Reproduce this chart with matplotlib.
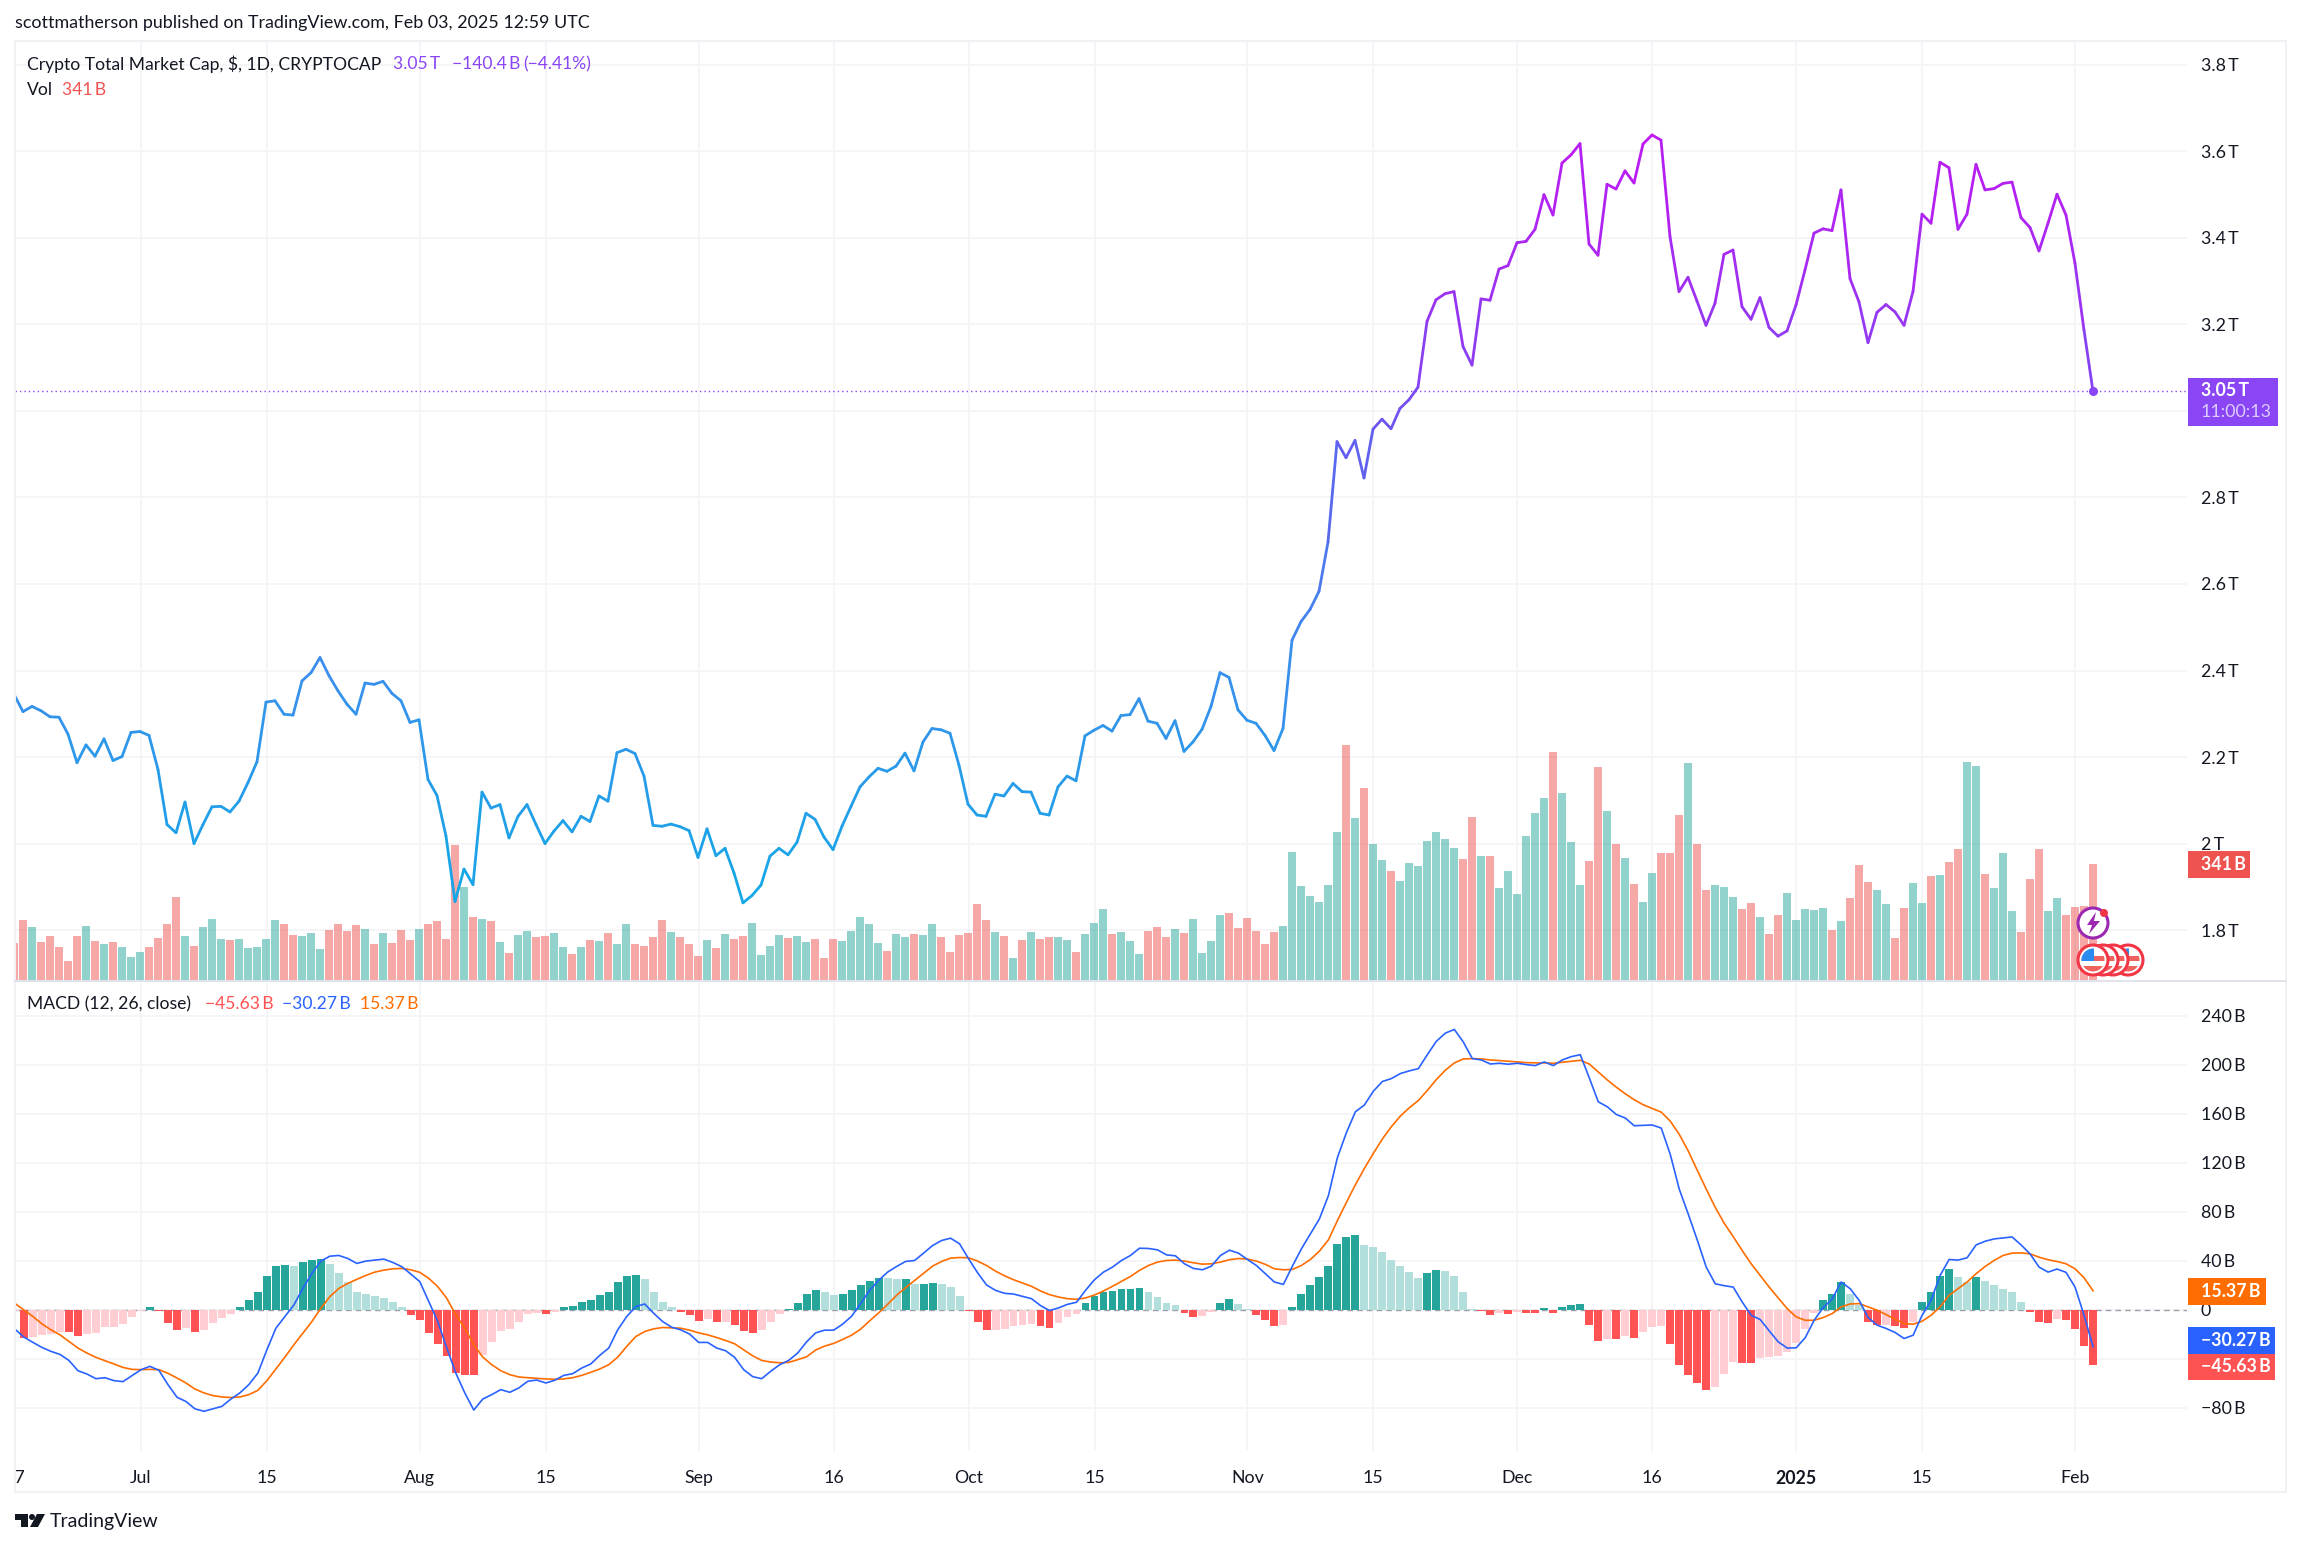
import numpy as np
import pandas as pd
import matplotlib
matplotlib.use("Agg")
import matplotlib.pyplot as plt
from matplotlib.collections import LineCollection
from matplotlib.colors import LinearSegmentedColormap, Normalize
from matplotlib.patches import Rectangle, Circle, Polygon
from matplotlib.transforms import Bbox, IdentityTransform

plt.rcParams["font.family"] = ["Lato", "DejaVu Sans"]

# Daily values, 17 Jun 2024 to 3 Feb 2025
dates = pd.date_range("2024-06-17", periods=232, freq="D")

price = [
    2.345, 2.305, 2.317, 2.307, 2.293, 2.292, 2.253, 2.187, 2.228, 2.202,
    2.242, 2.192, 2.201, 2.257, 2.259, 2.250, 2.171, 2.044, 2.025, 2.096,
    2.000, 2.044, 2.085, 2.086, 2.073, 2.098, 2.141, 2.189, 2.327, 2.330,
    2.299, 2.297, 2.376, 2.395, 2.430, 2.388, 2.353, 2.322, 2.299, 2.371,
    2.368, 2.375, 2.347, 2.330, 2.280, 2.286, 2.148, 2.111, 2.017, 1.866,
    1.941, 1.905, 2.119, 2.082, 2.090, 2.013, 2.063, 2.090, 2.044, 2.000,
    2.029, 2.053, 2.027, 2.063, 2.051, 2.110, 2.098, 2.210, 2.218, 2.208,
    2.156, 2.042, 2.040, 2.045, 2.039, 2.030, 1.968, 2.034, 1.972, 1.989,
    1.932, 1.863, 1.880, 1.904, 1.971, 1.989, 1.974, 2.003, 2.070, 2.056,
    2.015, 1.986, 2.040, 2.086, 2.131, 2.154, 2.174, 2.167, 2.179, 2.209,
    2.168, 2.235, 2.266, 2.263, 2.255, 2.181, 2.091, 2.066, 2.063, 2.114,
    2.110, 2.139, 2.120, 2.119, 2.070, 2.066, 2.131, 2.156, 2.145, 2.249,
    2.262, 2.273, 2.260, 2.296, 2.298, 2.335, 2.283, 2.278, 2.243, 2.284,
    2.213, 2.235, 2.264, 2.317, 2.395, 2.384, 2.309, 2.285, 2.278, 2.250,
    2.215, 2.266, 2.470, 2.513, 2.541, 2.583, 2.697, 2.929, 2.892, 2.932,
    2.845, 2.958, 2.981, 2.959, 3.006, 3.026, 3.055, 3.207, 3.257, 3.271,
    3.276, 3.149, 3.106, 3.259, 3.256, 3.328, 3.336, 3.389, 3.392, 3.420,
    3.500, 3.453, 3.573, 3.592, 3.618, 3.386, 3.360, 3.524, 3.513, 3.555,
    3.527, 3.617, 3.638, 3.626, 3.403, 3.276, 3.309, 3.254, 3.198, 3.249,
    3.362, 3.372, 3.241, 3.212, 3.262, 3.193, 3.173, 3.185, 3.245, 3.326,
    3.411, 3.421, 3.417, 3.511, 3.306, 3.252, 3.158, 3.228, 3.246, 3.229,
    3.198, 3.276, 3.455, 3.434, 3.575, 3.562, 3.420, 3.455, 3.570, 3.511,
    3.514, 3.526, 3.529, 3.447, 3.424, 3.370, 3.434, 3.501, 3.453, 3.341,
    3.187, 3.045,
]

volume = [
    110, 176, 156, 112, 129, 97, 56, 129, 159, 115,
    106, 112, 97, 68, 82, 97, 123, 165, 244, 129,
    100, 156, 179, 121, 118, 121, 94, 97, 121, 176,
    165, 132, 129, 138, 91, 147, 165, 144, 162, 150,
    106, 138, 109, 147, 118, 150, 165, 173, 121, 397,
    273, 185, 179, 173, 112, 79, 132, 144, 126, 129,
    138, 97, 76, 97, 118, 115, 138, 106, 165, 106,
    100, 126, 176, 141, 126, 106, 71, 118, 94, 135,
    121, 129, 168, 74, 100, 132, 123, 129, 112, 121,
    65, 121, 115, 144, 185, 165, 109, 85, 135, 126,
    135, 132, 165, 126, 82, 132, 138, 223, 176, 141,
    129, 65, 118, 141, 121, 126, 126, 118, 82, 135,
    168, 209, 135, 141, 115, 76, 144, 156, 126, 150,
    138, 179, 79, 115, 191, 197, 153, 182, 144, 106,
    141, 159, 376, 276, 247, 229, 279, 435, 691, 476,
    564, 400, 353, 320, 291, 344, 335, 409, 435, 415,
    388, 356, 479, 365, 365, 270, 320, 253, 423, 491,
    535, 670, 550, 406, 279, 350, 626, 497, 400, 359,
    282, 229, 315, 373, 373, 485, 638, 400, 265, 279,
    273, 244, 209, 226, 185, 135, 191, 256, 176, 209,
    206, 212, 147, 173, 241, 338, 288, 265, 223, 123,
    212, 285, 226, 306, 309, 347, 385, 641, 629, 312,
    270, 373, 203, 141, 297, 385, 203, 241, 191, 215,
    218, 341,
]

# r = down day, g = up day
volume_side = (
    "rrgrrrrrgr" "grgggrrrrg" "rgggrggggg" "rrgggrrrrg" "rgrrrgrrrr"
    "grgrgrggrr" "ggrgrgrggr" "rrrgrrrgrg" "rrggggrggr" "rrgggggrgg"
    "rggrrrrrrg" "rgrgrrggrg" "ggrgggrrrg" "rggggrrrrr" "rgggggggrg"
    "rggrgggggg" "grrgrggggg" "grgggrrgrg" "rggrrrgrrg" "ggrrgrrggg"
    "ggrgrrrggr" "rggrgrrggr" "gggrrrggrr" "rr"
)

macd = [
    -16, -22.5, -26.8, -30.9, -34.1, -36.6, -41.5, -49.9, -52.6, -56.4,
    -55.6, -58, -58.8, -53.9, -49.1, -46.3, -49.6, -61.2, -71.5, -75,
    -81, -83, -81, -79, -73, -68, -61.2, -51.8, -32.8, -15.2,
    -5.7, 3.8, 17.3, 29.5, 39.6, 43.6, 44.2, 41.7, 37.7, 39.6,
    40.4, 41.2, 38.5, 35, 29, 22.8, 6.5, -9.8, -31.4, -51.8,
    -68, -82, -73, -69.4, -65.3, -67.5, -64, -58.5, -57.5, -59.9,
    -57.7, -53.7, -52.3, -47.7, -44.4, -37.4, -31.4, -16.5, -5.7, 2.4,
    4.6, -3, -9.8, -14.4, -16.5, -20, -26.8, -26.8, -31.4, -33.6,
    -39, -49, -54.7, -56.4, -50.4, -45, -41.5, -35.5, -26.3, -19,
    -16.8, -16.8, -11.9, -5.4, 4.9, 15.7, 23.8, 30.6, 35.2, 39.3,
    40.1, 46.1, 52.3, 56.4, 58.3, 53.7, 41.5, 30.1, 20.1, 15.7,
    13.3, 12.7, 10.8, 8.9, 3.3, -0.8, 1.4, 4.3, 6, 15.7,
    24.4, 30.6, 34.7, 40.1, 44.2, 50.1, 49.9, 48.8, 44.7, 43.9,
    37.4, 33.6, 32.5, 35.5, 44.2, 48.5, 46.1, 40.9, 36, 29.3,
    22.5, 20.6, 35.5, 49.6, 61.8, 74, 93, 124, 144.4, 161.5,
    167, 178.3, 186.2, 188.6, 192.7, 194.9, 196.7, 208.1, 219, 225.7,
    228.7, 218.4, 204.9, 203.8, 200.5, 201.1, 200.3, 201.1, 200, 199.2,
    202.2, 199.2, 203.8, 206.5, 208.1, 189.2, 169.6, 165.6, 159.3, 156.4,
    150.1, 150.4, 150.7, 148.2, 126.8, 98.4, 78, 56.9, 34.7, 21.1,
    19.5, 18.4, 6.2, -4.6, -8.1, -17.3, -26.3, -31.4, -31.2, -23,
    -8.7, 1.6, 8.7, 22.5, 17.1, 7.6, -6.5, -12.7, -15.4, -18.7,
    -23.6, -20.9, -4.6, 7.6, 27.9, 40.9, 40.4, 42.3, 52.8, 55.8,
    57.7, 58.5, 59.3, 52.8, 45.5, 34.7, 30.6, 33.1, 30.4, 18.4,
    -4.6, -30.27,
]

signal = [
    5, -0.3, -5.7, -11.7, -16.5, -20.6, -26, -31.4, -35.5, -39,
    -41.7, -44.4, -47.2, -48.8, -49, -48.8, -49, -52, -55.8, -59.9,
    -64.8, -68, -70.2, -71.3, -71.8, -71.3, -69.4, -65.9, -58, -48.5,
    -38.8, -28.7, -19.2, -9.8, 1.1, 10.6, 17.3, 21.4, 24.7, 27.9,
    30.6, 32.2, 33.3, 33.6, 32.5, 30.4, 25.5, 18.7, 9.2, -4.3,
    -15.2, -28.7, -38.8, -45, -49.9, -53.1, -55, -55.6, -56.1, -56.6,
    -56.9, -56.6, -55.6, -53.7, -51.2, -48.5, -45, -38.8, -30.1, -22,
    -17.9, -15.7, -14.6, -14.9, -15.2, -16.8, -19, -20.6, -22.8, -25.2,
    -27.9, -32.8, -37.7, -41.5, -42.8, -43.4, -43.1, -40.9, -38.5, -33,
    -29.8, -27.6, -24.4, -20.9, -16, -9.2, -2.7, 4.3, 11.7, 17.9,
    23.8, 29.8, 35.5, 39.3, 42, 42.5, 42.3, 39.6, 36, 31.4,
    27.6, 24.4, 21.7, 19, 15.2, 12.2, 10.3, 8.9, 8.4, 9.5,
    11.9, 15.2, 19, 23, 27.1, 32, 36, 38.8, 40.1, 40.4,
    39.6, 38.2, 37.1, 37.4, 38.8, 40.7, 41.7, 41.2, 39.6, 36.9,
    33.3, 32.5, 32.8, 36, 40.9, 47.7, 56.9, 72.6, 87.5, 101.9,
    115.2, 127.6, 139.3, 149.3, 158, 164.8, 170.7, 178.9, 187.8, 195.4,
    201.4, 204.6, 204.9, 204.6, 203.8, 203.3, 202.7, 202.2, 201.6, 201.4,
    201.4, 201.1, 201.9, 202.7, 203.5, 200.5, 194, 187.5, 181.6, 176.2,
    171.3, 167.2, 164.2, 161.2, 153.9, 143.1, 129.5, 113.8, 98.4, 83.5,
    70.5, 59.6, 48.2, 37.4, 27.9, 18.4, 9.5, 0.8, -6, -8.7,
    -8.7, -6.5, -3.3, 2.2, 4.6, 4.9, 2.2, -0.5, -4.1, -7.9,
    -11.4, -11.9, -9.5, -4.6, 2.2, 11.7, 17.1, 22.5, 29.3, 35.2,
    40.1, 44.2, 46.1, 46.3, 45.5, 42.8, 40.7, 39.3, 37.4, 33.3,
    26, 15.37,
]

hist = [
    -1, -23, -22.2, -20.6, -19.8, -18.2, -18.2, -21.4, -19.8, -19,
    -14.1, -14.1, -11.7, -6, -1.1, 2.2, -1.1, -10.8, -16.5, -14.9,
    -18.2, -16.5, -10.8, -6.8, -3.5, 2.2, 7.9, 14.4, 27.4, 35.5,
    36.3, 35.5, 38.8, 40.4, 41.2, 37.1, 29.8, 22.5, 14.4, 12.7,
    11.1, 9.5, 6.2, 2.2, -4.3, -8.4, -19, -27.9, -37.7, -51.5,
    -53.1, -53.1, -36.9, -26.3, -17.3, -15.7, -10, -3.5, -2.7, -3.5,
    -1.9, 2.2, 3, 6.2, 7.9, 11.9, 14.4, 22.5, 27.4, 28.2,
    24.9, 14.4, 6.2, 2.2, -1.9, -4.3, -9.2, -7.6, -10, -10,
    -12.5, -17.3, -19, -16.5, -10, -3.5, 0.5, 5.4, 12.5, 15.7,
    14.1, 11.7, 12.5, 15.7, 19.8, 23, 25.5, 25.5, 24.7, 24.7,
    20.6, 20.6, 21.4, 20.6, 18.2, 10.8, -1.4, -10.3, -16.8, -16.8,
    -16, -13.6, -12.7, -11.9, -13.6, -15.2, -11.1, -6.2, -3.8, 5.1,
    10.8, 14.1, 14.9, 16.5, 16.5, 17.3, 14.1, 10, 5.1, 3.5,
    -3, -6.2, -5.4, -2.2, 5.1, 8.4, 4.3, 0.3, -4.6, -8.7,
    -13.6, -12.7, 1.9, 12.5, 19.8, 26.3, 35.2, 53.9, 59.6, 61.2,
    53.1, 51.5, 47.4, 40.1, 35.2, 30.4, 25.5, 29.5, 32, 31.2,
    27.1, 14.1, 0.3, -1.4, -4.6, -3, -3.8, -2.2, -3, -3,
    1.1, -3, 1.9, 3.5, 4.3, -12.7, -25.7, -24.1, -24.1, -21.7,
    -23.3, -18.4, -14.4, -13.6, -28.2, -45.3, -53.4, -59.9, -65.6, -63.1,
    -52.6, -42.8, -43.6, -43.6, -39.6, -38.8, -37.9, -34.7, -27.4, -16,
    -3, 7.6, 12.5, 22.2, 12.5, 3.5, -10.3, -12.7, -12.7, -13.6,
    -15.2, -10.3, 6, 14.1, 27.1, 32.8, 26.3, 22.2, 26.3, 23,
    19.8, 16.5, 14.1, 6, -2.2, -10.3, -11.1, -7.9, -8.7, -16,
    -29.8, -45.63,
]

# D dark green, L light green, R dark red, P pale red
hist_shade = (
    "PRPPPPRRPP" "PPPPPDRRRP" "RPPPPDDDDD" "DLDDDLLLLL" "LLLLRRRRRR"
    "RRPPPPPPPR" "PDDDDDDDDD" "LLLLRRRPRP" "RRRPPPDDDD" "LLDDDDDLLD"
    "LDDLLLRRRP" "PPPPRRPPPD" "DDDDDDLLLL" "RRPPDDLLRR" "RPDDDDDDDD"
    "LLLLLLLDDL" "LLLRRPRPRR" "DRDDDRRPRP" "RPPPRRRRRP" "PPRRPPPPPP"
    "PDDDLLRRPR" "RPDDDDLLDL" "LLLLRRRPRR" "RR"
)

tick_dates = ["2024-06-17", "2024-07-01", "2024-07-15", "2024-08-01", "2024-08-15",
              "2024-09-01", "2024-09-16", "2024-10-01", "2024-10-15", "2024-11-01",
              "2024-11-15", "2024-12-01", "2024-12-16", "2025-01-01", "2025-01-15",
              "2025-02-01"]
tick_names = ["17", "Jul", "15", "Aug", "15", "Sep", "16", "Oct", "15", "Nov",
              "15", "Dec", "16", "2025", "15", "Feb"]

price_ticks = [1.8, 2, 2.2, 2.4, 2.6, 2.8, 3, 3.2, 3.4, 3.6, 3.8]
price_names = ["1.8\u2009T", "2\u2009T", "2.2\u2009T", "2.4\u2009T", "2.6\u2009T", "2.8\u2009T",
               "", "3.2\u2009T", "3.4\u2009T", "3.6\u2009T", "3.8\u2009T"]
macd_ticks = [-80, -40, 0, 40, 80, 120, 160, 200, 240]
macd_names = ["\u221280\u2009B", "", "0", "40\u2009B", "80\u2009B", "120\u2009B",
              "160\u2009B", "200\u2009B", "240\u2009B"]

W, H = 2301, 1546
GRID = "#f3f4f6"
TEXT = "#131722"
PURPLE = "#8a46f5"
FS = 12.8

fig = plt.figure(figsize=(W / 100, H / 100), dpi=100, facecolor="white")


def pane(left, top, right, bottom, z):
    ax = fig.add_axes([left / W, 1 - bottom / H, (right - left) / W, (bottom - top) / H], zorder=z)
    for s in ax.spines.values():
        s.set_visible(False)
    return ax


def px_text(x, y, s, color=TEXT, size=FS, **kw):
    fig.text(x / W, 1 - y / H, s, color=color, fontsize=size, va="center", zorder=20, **kw)


def px_box(x0, y0, x1, y1, color, z=15):
    fig.add_artist(Rectangle((x0, H - y1), x1 - x0, y1 - y0, transform=IdentityTransform(),
                             facecolor=color, edgecolor="none", zorder=z))


x = np.arange(len(price))
tick_pos = [dates.get_loc(pd.Timestamp(d)) for d in tick_dates]
# one day is 9 px; day 0 sits at px 14, the panes start at px 15 and end at px 2187
xlim = (1 / 9, 2173 / 9)

# price pane: background with the grid
ax_bg = pane(15, 41, 2187, 980, 1)
ax_bg.set_xlim(xlim)
ax_bg.set_ylim(3.6 - (980 - 151.4) / 432.6, 3.6 + (151.4 - 41) / 432.6)
ax_bg.set_xticks(tick_pos)
ax_bg.set_yticks(price_ticks)
ax_bg.set_yticklabels(price_names)
ax_bg.yaxis.tick_right()
ax_bg.tick_params(axis="both", length=0, labelbottom=False, labelsize=FS, labelcolor=TEXT, pad=10)
ax_bg.grid(True, color=GRID, linewidth=1.2)
ax_bg.set_axisbelow(True)

# volume bars
ax_vol = pane(15, 41, 2187, 980, 2)
ax_vol.patch.set_visible(False)
ax_vol.set_xlim(xlim)
ax_vol.set_ylim(0, 939 / 0.34)
ax_vol.axis("off")
vol_col = ["#ef5350" if s == "r" else "#26a69a" for s in volume_side]
ax_vol.bar(x, volume, width=0.88, color=vol_col, alpha=0.5, linewidth=0)

# price line, gradient follows the price
ax_line = pane(15, 41, 2187, 980, 3)
ax_line.patch.set_visible(False)
ax_line.set_xlim(xlim)
ax_line.set_ylim(ax_bg.get_ylim())
ax_line.axis("off")
cmap = LinearSegmentedColormap.from_list(
    "tv", [(0, "#12a9e6"), (0.30, "#3a8fec"), (0.58, "#5f62ee"), (0.67, "#7d48f2"),
           (0.82, "#a42cf2"), (1, "#c018f2")])
pts = np.column_stack([x, price]).reshape(-1, 1, 2)
segs = np.concatenate([pts[:-1], pts[1:]], axis=1)
lc = LineCollection(segs, cmap=cmap, norm=Normalize(1.86, 3.64), linewidth=2.0, capstyle="round")
lc.set_array((np.array(price[:-1]) + np.array(price[1:])) / 2)
ax_line.add_collection(lc)
ax_line.axhline(price[-1], color=PURPLE, linewidth=1, linestyle=(0, (1, 2.2)))
ax_line.plot(x[-1], price[-1], "o", color=PURPLE, markersize=6.5, markeredgewidth=0)

# MACD pane
ax_macd = pane(15, 981, 2187, 1451, 1)
ax_macd.set_xlim(xlim)
ax_macd.set_ylim((1309.6 - 1451) / 1.225, (1309.6 - 981) / 1.225)
ax_macd.set_yticks(macd_ticks)
ax_macd.set_yticklabels(macd_names)
ax_macd.yaxis.tick_right()
ax_macd.set_xticks(tick_pos)
ax_macd.set_xticklabels(tick_names)
ax_macd.tick_params(axis="y", length=0, labelsize=FS, labelcolor=TEXT, pad=10)
ax_macd.tick_params(axis="x", length=0, labelsize=FS, labelcolor=TEXT, pad=14)
ax_macd.grid(True, color=GRID, linewidth=1.2)
ax_macd.set_axisbelow(True)
ax_macd.axhline(0, color="#9a9ea8", linewidth=1, linestyle=(0, (4, 3)), zorder=1)
shade = {"D": "#26a69a", "L": "#b2dfdb", "R": "#ff5252", "P": "#ffcdd2"}
ax_macd.bar(x, hist, width=0.88, color=[shade[c] for c in hist_shade], linewidth=0, zorder=2)
ax_macd.plot(x, signal, color="#ff6d00", linewidth=1.2, zorder=3)
ax_macd.plot(x, macd, color="#2962ff", linewidth=1.2, zorder=4)

# the first date label is cut by the chart's left edge
clip = Bbox([[15, 0], [W, H]])
for lab in ax_macd.get_xticklabels():
    lab.set_clip_box(clip)
    lab.set_clip_on(True)
ax_macd.get_xticklabels()[13].set_fontweight("bold")

# chart frame and pane separator
fig.add_artist(Rectangle((15, H - 1492), 2271, 1451, transform=IdentityTransform(),
                         facecolor="none", edgecolor="#f0f1f4", linewidth=1.5, zorder=10))
fig.add_artist(plt.Line2D([15, 2286], [H - 980.5, H - 980.5], transform=IdentityTransform(),
                          color="#e0e3eb", linewidth=1.4, zorder=10))

# header and legends
LEG = 12.6
px_text(15, 23, "scottmatherson published on TradingView.com, Feb 03, 2025 12:59 UTC", size=12.9)
px_text(27, 64, "Crypto Total Market Cap, $, 1D, CRYPTOCAP", size=LEG)
px_text(393, 64, "3.05\u2009T", color=PURPLE, size=LEG)
px_text(452, 64, "\u2212140.4\u2009B", color=PURPLE, size=LEG)
px_text(523, 64, "(\u22124.41%)", color=PURPLE, size=LEG)
px_text(27, 90, "Vol", size=LEG)
px_text(62, 90, "341\u2009B", color="#ef5350", size=LEG)
px_text(27, 1004, "MACD (12, 26, close)", size=LEG)
px_text(205, 1004, "\u221245.63\u2009B", color="#ff5252", size=LEG)
px_text(282, 1004, "\u221230.27\u2009B", color="#2962ff", size=LEG)
px_text(360, 1004, "15.37\u2009B", color="#ff6d00", size=LEG)

# value tags on the right axis
px_box(2188, 378, 2278, 426, PURPLE)
px_text(2201, 391, "3.05\u2009T", color="white", fontweight="bold")
px_text(2201, 412, "11:00:13", color="#dccdfc")
px_box(2188, 851, 2250, 878, "#ef5350")
px_text(2201, 864.5, "341\u2009B", color="white", fontweight="bold")
px_box(2188, 1278, 2266, 1305, "#ff6d00")
px_text(2201, 1291.5, "15.37\u2009B", color="white", fontweight="bold")
px_box(2188, 1327, 2275, 1354, "#2962ff")
px_text(2201, 1340.5, "\u221230.27\u2009B", color="white", fontweight="bold")
px_box(2188, 1354, 2275, 1380, "#ff5252")
px_text(2201, 1367, "\u221245.63\u2009B", color="white", fontweight="bold")


# event icons near the last bar
def flag(cx, cy):
    rim = Circle((cx, H - cy), 15, transform=IdentityTransform(), facecolor="white",
                 edgecolor="#f23645", linewidth=2.2, zorder=12)
    fig.add_artist(rim)
    inner = Circle((cx, H - cy), 11.5, transform=IdentityTransform())
    for y0, y1, w, col in [(cy - 4, cy + 1, 24, "#f0625d"), (cy + 6, cy + 12, 24, "#f0625d"),
                           (cy - 12, cy + 1, 13, "#2a8cf0")]:
        r = Rectangle((cx - 12, H - y1), w, y1 - y0, transform=IdentityTransform(),
                      facecolor=col, edgecolor="none", zorder=12)
        fig.add_artist(r)
        r.set_clip_path(inner)


for cx in [2128, 2113, 2103, 2093]:
    flag(cx, 960)

fig.add_artist(Circle((2093, H - 923), 15, transform=IdentityTransform(), facecolor="white",
                      edgecolor="#9c27b0", linewidth=2.2, zorder=13))
fig.add_artist(Polygon([(2096, H - 912), (2087, H - 925), (2092, H - 925), (2089, H - 934),
                        (2100, H - 921), (2094, H - 921)], transform=IdentityTransform(),
                       facecolor="#9c27b0", edgecolor="none", zorder=13))
fig.add_artist(Circle((2104, H - 913), 4, transform=IdentityTransform(), facecolor="#f23645",
                      edgecolor="none", zorder=13))

# TradingView logo
for poly in ([(15, 1514), (28, 1514), (28, 1527), (21, 1527), (21, 1520), (15, 1520)],
             [(37, 1514), (45, 1514), (38, 1527), (30, 1527)]):
    fig.add_artist(Polygon([(a, H - b) for a, b in poly], transform=IdentityTransform(),
                           facecolor="#131722", edgecolor="none", zorder=12))
fig.add_artist(Circle((32, H - 1517), 3, transform=IdentityTransform(), facecolor="#131722",
                      edgecolor="none", zorder=12))
px_text(50, 1521, "TradingView", size=14)

fig.savefig("out.png", dpi=100)
